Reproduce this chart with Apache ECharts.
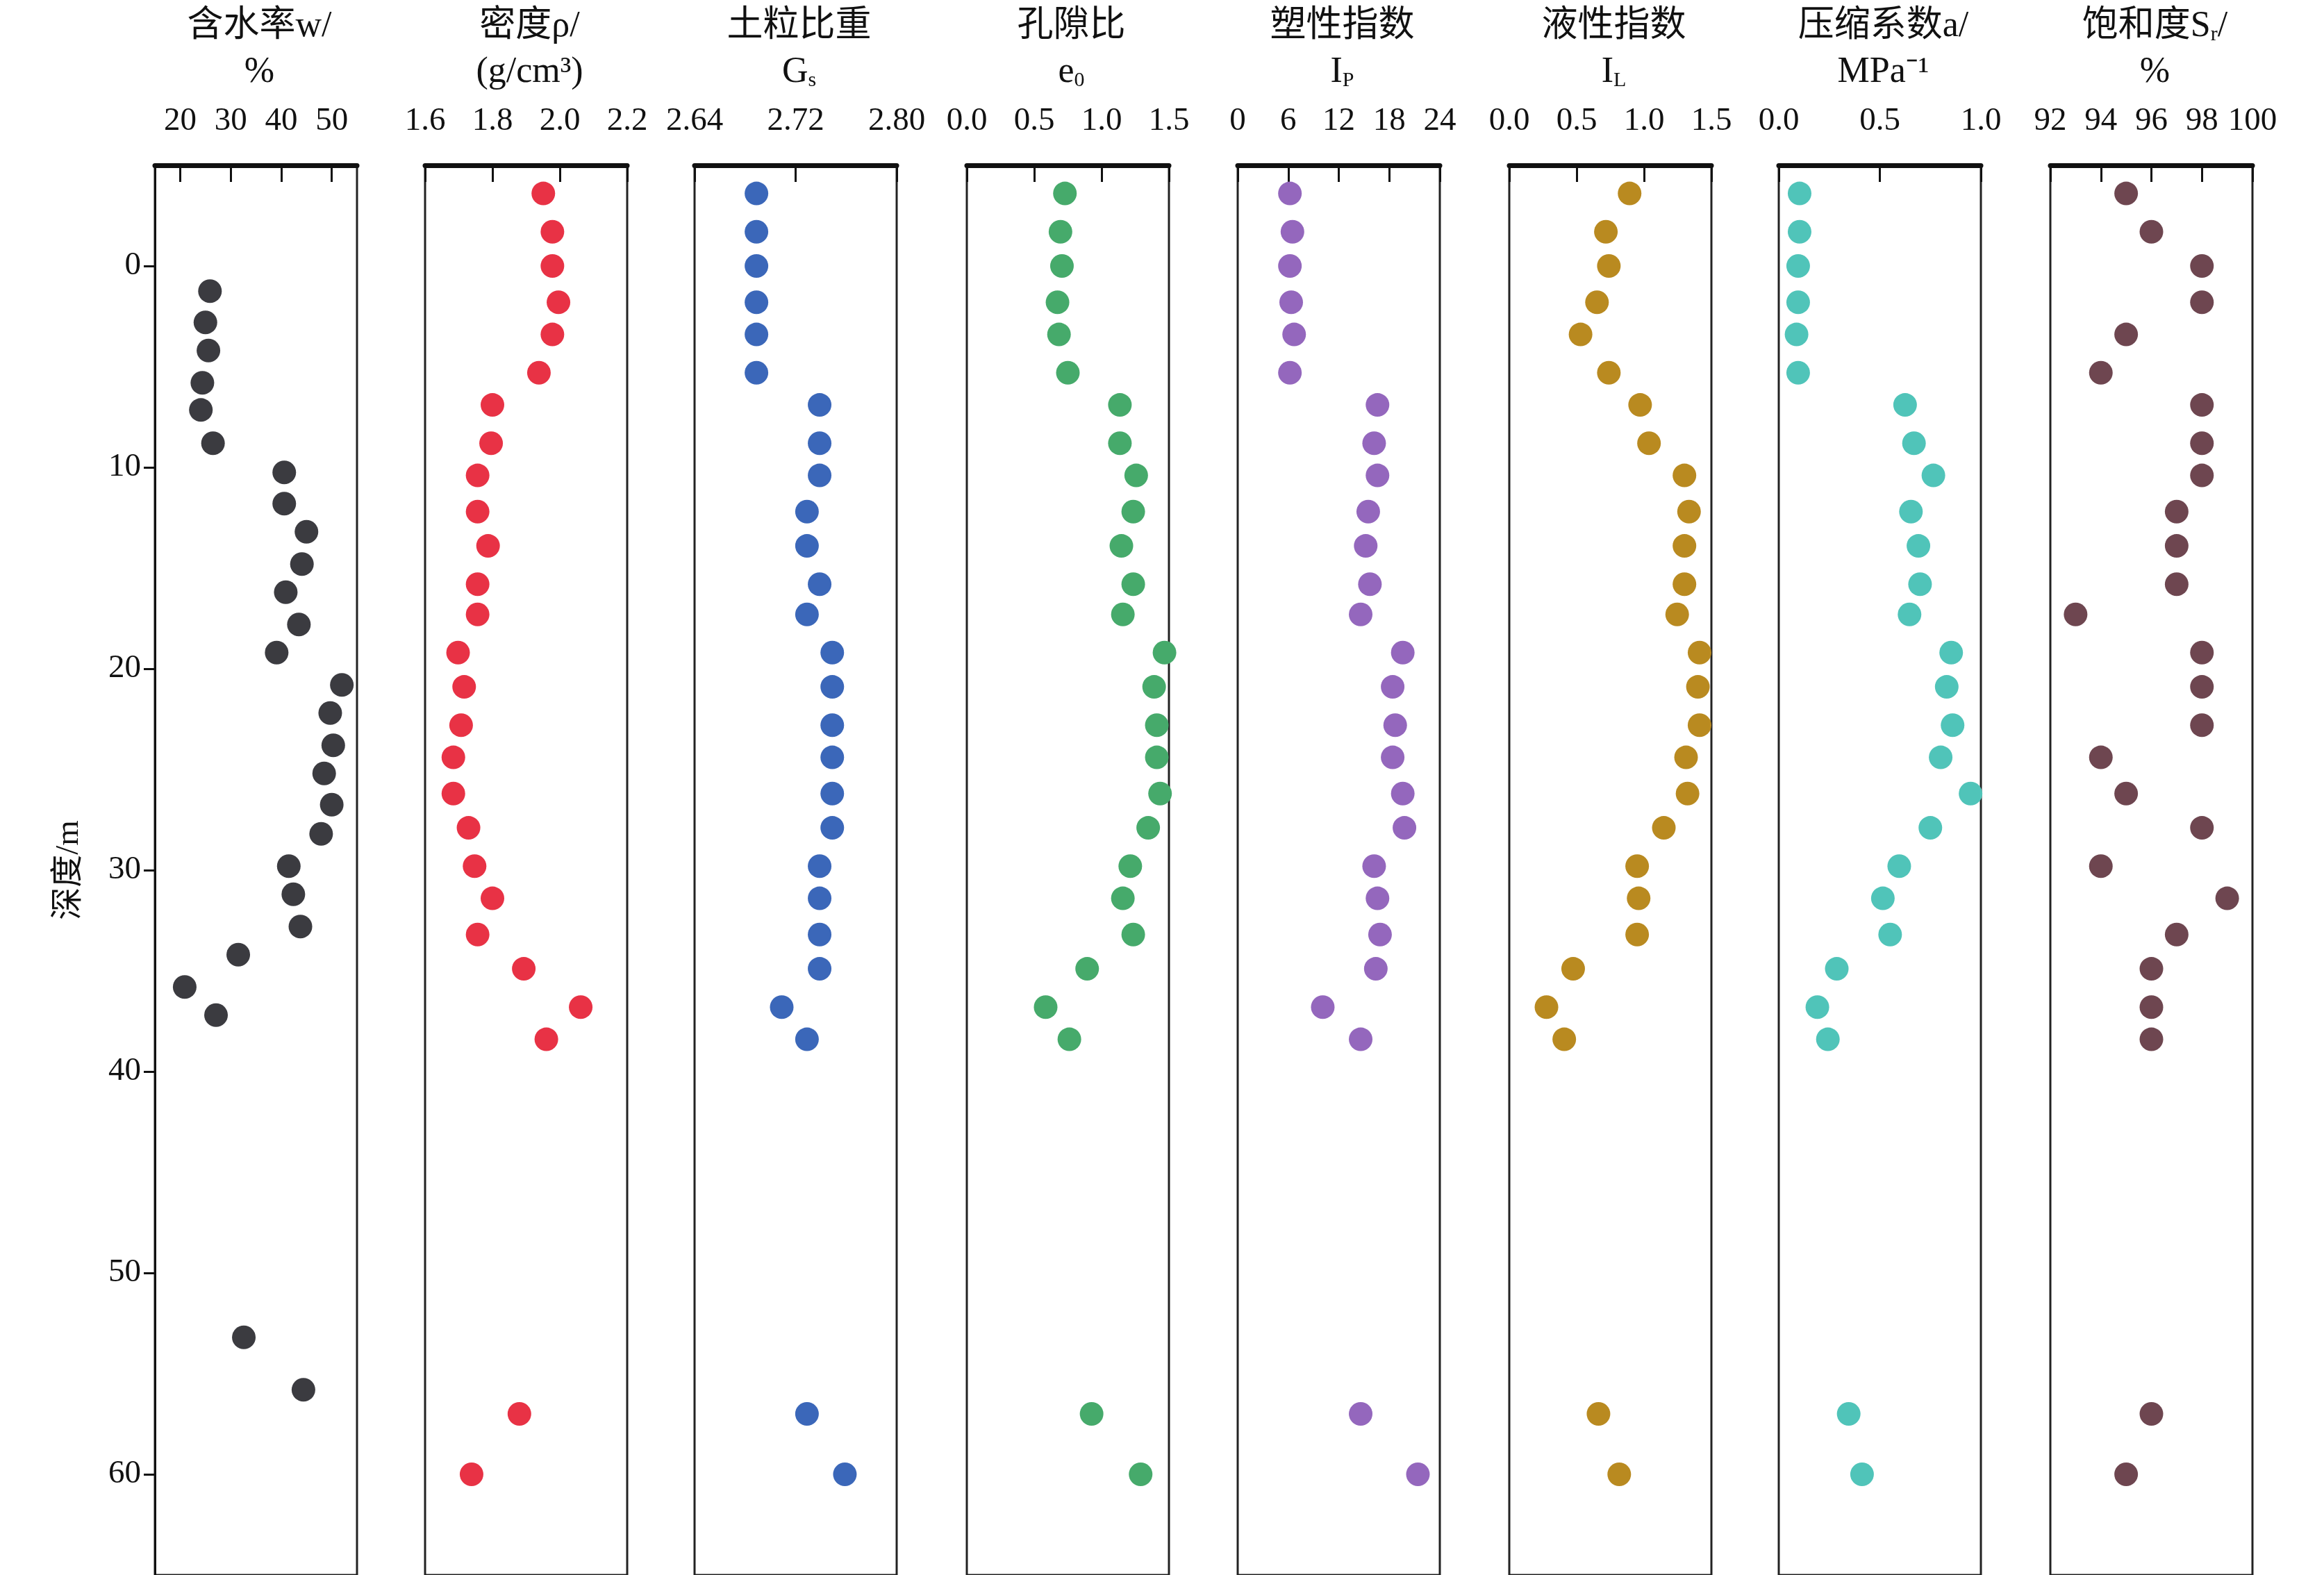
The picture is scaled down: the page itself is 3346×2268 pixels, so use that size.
<!DOCTYPE html>
<html>
<head>
<meta charset="utf-8">
<script src="https://cdn.jsdelivr.net/npm/echarts@6/dist/echarts.min.js"></script>
<style>html,body{margin:0;padding:0;background:#fff}#chart{width:3346px;height:2268px}</style>
</head>
<body>
<div id="chart"></div>
<script>
// depths of the water content samples
var depthW = [1.25, 2.8, 4.2, 5.8, 7.15, 8.8, 10.25, 11.8, 13.2, 14.8, 16.2, 17.8, 19.2, 20.8, 22.2, 23.8, 25.2, 26.75, 28.2, 29.8, 31.2, 32.8, 34.2, 35.8, 37.2, 53.2, 55.8];
var waterContent = [25.9, 25.0, 25.6, 24.4, 24.1, 26.5, 40.6, 40.6, 45.0, 44.1, 40.9, 43.5, 39.1, 52.0, 49.7, 50.3, 48.5, 50.0, 47.9, 41.5, 42.4, 43.8, 31.5, 20.9, 27.1, 32.6, 44.4];

// depths of the other samples
var depth = [-3.6, -1.7, 0, 1.8, 3.4, 5.3, 6.9, 8.8, 10.4, 12.2, 13.9, 15.8, 17.3, 19.2, 20.9, 22.8, 24.4, 26.2, 27.9, 29.8, 31.4, 33.2, 34.9, 36.8, 38.4, 57.0, 60.0];
var density = [1.951, 1.978, 1.978, 1.996, 1.978, 1.938, 1.80, 1.796, 1.756, 1.756, 1.787, 1.756, 1.756, 1.698, 1.716, 1.707, 1.684, 1.684, 1.729, 1.747, 1.80, 1.756, 1.893, 2.062, 1.96, 1.88, 1.738];
var gs = [2.689, 2.689, 2.689, 2.689, 2.689, 2.689, 2.739, 2.739, 2.739, 2.729, 2.729, 2.739, 2.729, 2.749, 2.749, 2.749, 2.749, 2.749, 2.749, 2.739, 2.739, 2.739, 2.739, 2.709, 2.729, 2.729, 2.759];
var voidRatio = [0.728, 0.695, 0.706, 0.673, 0.684, 0.75, 1.136, 1.136, 1.257, 1.235, 1.147, 1.235, 1.158, 1.467, 1.39, 1.41, 1.41, 1.434, 1.346, 1.213, 1.158, 1.235, 0.893, 0.585, 0.761, 0.926, 1.29];
var plasticity = [6.2, 6.5, 6.2, 6.35, 6.7, 6.2, 16.6, 16.2, 16.6, 15.5, 15.2, 15.7, 14.6, 19.6, 18.4, 18.7, 18.4, 19.6, 19.8, 16.2, 16.6, 16.9, 16.4, 10.1, 14.6, 14.6, 21.4];
var liquidity = [0.893, 0.717, 0.739, 0.651, 0.529, 0.739, 0.971, 1.037, 1.30, 1.334, 1.30, 1.30, 1.246, 1.412, 1.40, 1.412, 1.312, 1.323, 1.147, 0.949, 0.96, 0.949, 0.474, 0.276, 0.408, 0.662, 0.816];
var compress = [0.103, 0.103, 0.096, 0.096, 0.088, 0.096, 0.625, 0.669, 0.765, 0.654, 0.691, 0.699, 0.647, 0.853, 0.831, 0.86, 0.801, 0.949, 0.75, 0.596, 0.515, 0.551, 0.287, 0.191, 0.243, 0.346, 0.412];
var saturation = [95, 96, 98, 98, 95, 94, 98, 98, 98, 97, 97, 97, 93, 98, 98, 98, 94, 95, 98, 94, 99, 97, 96, 96, 96, 96, 95];

var depthTicks = [0, 10, 20, 30, 40, 50, 60];

var panels = [
  {title: '含水率w/\n%', min: 15, max: 55, ticks: [20, 30, 40, 50], dec: 0, y: depthW, x: waterContent, color: '#3b3b40'},
  {title: '密度ρ/\n(g/cm³)', min: 1.6, max: 2.2, interval: 0.2, dec: 1, y: depth, x: density, color: '#e83245'},
  {title: '土粒比重\n{m|G}{s|s}', min: 2.64, max: 2.80, interval: 0.08, dec: 2, y: depth, x: gs, color: '#3b67b9'},
  {title: '孔隙比\n{m|e}{s|0}', min: 0, max: 1.5, interval: 0.5, dec: 1, y: depth, x: voidRatio, color: '#46aa6b'},
  {title: '塑性指数\n{m|I}{s|P}', min: 0, max: 24, interval: 6, dec: 0, y: depth, x: plasticity, color: '#9467bd'},
  {title: '液性指数\n{m|I}{s|L}', min: 0, max: 1.5, interval: 0.5, dec: 1, y: depth, x: liquidity, color: '#b98a20'},
  {title: '压缩系数a/\nMPa⁻¹', min: 0, max: 1.0, interval: 0.5, dec: 1, y: depth, x: compress, color: '#50c4b9'},
  {title: '饱和度S{s|r}/\n%', min: 92, max: 100, interval: 2, dec: 0, y: depth, x: saturation, color: '#6e4650'}
];

var font = '"Liberation Serif", "Noto Sans CJK SC", serif';
var lefts = [223, 612, 1000, 1392, 1782, 2173, 2561, 2952];
var panelW = 291;

var grids = [], xAxes = [], yAxes = [], series = [], titles = [];
panels.forEach(function (p, i) {
  grids.push({left: lefts[i], width: panelW, top: 238, bottom: -12, show: true, borderColor: '#222', borderWidth: 3, backgroundColor: 'transparent'});
  var xa = {
    gridIndex: i, type: 'value', position: 'top', min: p.min, max: p.max,
    axisLine: {show: true, onZero: false, lineStyle: {color: '#111', width: 7}},
    axisTick: {show: true, inside: true, length: 24, lineStyle: {color: '#111', width: 3}},
    axisLabel: {show: true, margin: 40, color: '#111', fontSize: 47, fontFamily: font,
      showMinLabel: true, showMaxLabel: true,
      formatter: (function (d) { return function (v) { return v.toFixed(d); }; })(p.dec)},
    splitLine: {show: false}
  };
  if (p.ticks) {
    xa.axisTick.customValues = p.ticks;
    xa.axisLabel.customValues = p.ticks;
  } else {
    xa.interval = p.interval;
  }
  xAxes.push(xa);
  yAxes.push({
    gridIndex: i, type: 'value', inverse: true, min: -5, max: 65,
    axisLine: {show: i === 0, onZero: false, lineStyle: {color: '#111', width: 3}},
    axisTick: {show: i === 0, length: 16, lineStyle: {color: '#111', width: 3}, customValues: depthTicks},
    axisLabel: {show: i === 0, color: '#111', fontSize: 47, fontFamily: font, margin: 20, customValues: depthTicks},
    splitLine: {show: false},
    name: i === 0 ? '深度/m' : '', nameLocation: 'middle', nameGap: 100, nameRotate: 90,
    nameTextStyle: {color: '#111', fontSize: 47, fontFamily: font}
  });
  series.push({
    type: 'scatter', xAxisIndex: i, yAxisIndex: i, symbolSize: 34,
    itemStyle: {color: p.color, opacity: 1},
    data: p.x.map(function (v, k) { return [v, p.y[k]]; })
  });
  titles.push({
    text: p.title, left: lefts[i] + panelW / 2, top: 0, textAlign: 'center',
    textStyle: {color: '#111', fontSize: 52, fontWeight: 'normal', fontFamily: font, lineHeight: 66,
      rich: {
        m: {fontSize: 52, fontFamily: font, color: '#111'},
        s: {fontSize: 30, fontFamily: font, color: '#111', padding: [24, 0, 0, 0]}
      }}
  });
});

var chart = echarts.init(document.getElementById('chart'));
chart.setOption({
  backgroundColor: '#fff',
  animation: false,
  title: titles,
  grid: grids,
  xAxis: xAxes,
  yAxis: yAxes,
  series: series
});
</script>
</body>
</html>
